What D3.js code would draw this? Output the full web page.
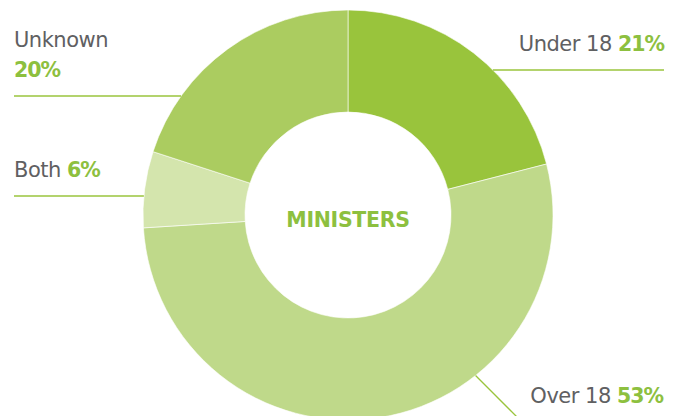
<!DOCTYPE html>
<html>
<head>
<meta charset="utf-8">
<script src="https://cdn.jsdelivr.net/npm/d3@7"></script>
<style>
  html, body { margin: 0; padding: 0; background: #fff; }
  svg { display: block; }
  text { font-family: "DejaVu Sans", sans-serif; }
</style>
</head>
<body>
<div id="chart"></div>
<script>
(function() {
  'use strict';

  // data, clockwise from 12 o'clock
  const categories = ['Under 18', 'Over 18', 'Both', 'Unknown'];
  const values = [21, 53, 6, 20];
  const colors = ['#99c43c', '#bfd98a', '#d4e5ad', '#abcc60'];
  const title = 'MINISTERS';

  const w = 681;
  const h = 416;
  const cx = 348;
  const cy = 215;
  const outerR = 205;
  const innerR = 103;
  const green = '#8dc03f';
  const grey = '#5f6062';

  const svg = d3.select('#chart')
    .append('svg')
    .attr('width', w)
    .attr('height', h);

  const pie = d3.pie().sort(null).value((d) => d);
  const arc = d3.arc().innerRadius(innerR).outerRadius(outerR);

  const g = svg.append('g')
    .attr('transform', 'translate(' + cx + ',' + cy + ')');

  g.selectAll('path')
    .data(pie(values))
    .enter()
    .append('path')
    .attr('d', arc)
    .attr('fill', (d, i) => colors[i])
    .attr('stroke', '#fff')
    .attr('stroke-width', 0.6);

  g.append('text')
    .attr('x', 0)
    .attr('y', 12)
    .attr('text-anchor', 'middle')
    .attr('fill', green)
    .style('font-weight', 'bold')
    .style('font-size', '20.5px')
    .style('letter-spacing', '-0.3px')
    .text(title);

  // x on the outer circle at a given y (left or right side)
  function edgeX(y, side) {
    const dy = y - cy;
    return cx + side * Math.sqrt(outerR * outerR - dy * dy);
  }

  // label layout: Under 18, Over 18, Both, Unknown
  const labelLayout = [
    {x: 664, y: 51, anchor: 'end', line: [edgeX(70, 1), 70, 664, 70]},
    {x: 663, y: 403, anchor: 'end', line: [cx + outerR * Math.sin(2.47), cy - outerR * Math.cos(2.47), 526, 426]},
    {x: 14, y: 177, anchor: 'start', line: [14, 196, edgeX(196, -1), 196]},
    {x: 14, y: 47, anchor: 'start', twoLines: true, line: [14, 96, edgeX(96, -1), 96]}
  ];

  labelLayout.forEach((l, i) => {
    svg.append('line')
      .attr('x1', l.line[0])
      .attr('y1', l.line[1])
      .attr('x2', l.line[2])
      .attr('y2', l.line[3])
      .attr('stroke', '#9ac43c')
      .attr('stroke-width', 1.3);

    const t = svg.append('text')
      .attr('x', l.x)
      .attr('y', l.y)
      .attr('text-anchor', l.anchor)
      .style('font-size', '21px')
      .style('letter-spacing', '-0.5px');
    t.append('tspan')
      .attr('fill', grey)
      .text(categories[i]);
    if (l.twoLines) {
      t.append('tspan')
        .attr('x', l.x)
        .attr('dy', 30)
        .attr('fill', green)
        .style('font-weight', 'bold')
        .style('font-size', '20.5px')
        .style('letter-spacing', '-1px')
        .text(values[i] + '%');
    } else {
      t.append('tspan')
        .attr('fill', green)
        .style('font-weight', 'bold')
        .style('font-size', '20.5px')
        .style('letter-spacing', '-1px')
        .text(' ' + values[i] + '%');
    }
  });
}());
</script>
</body>
</html>
